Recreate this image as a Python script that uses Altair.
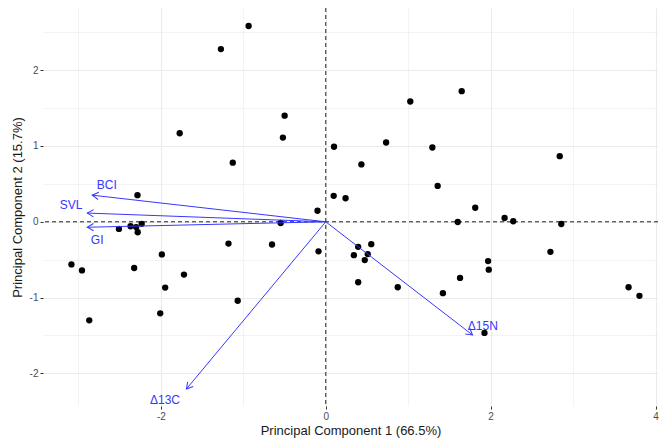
import math
import altair as alt
import pandas as pd

# ---- data ----
pc1 = [-0.936, -1.272, -1.772, -0.499, -0.520, -1.128, -2.284, -0.100, 0.100, 0.096,
       0.732, 1.025, 1.649, 1.293, 0.432, 2.838, 1.357, 0.240, 1.813, 2.169,
       -2.509, -2.368, -2.300, -2.233, -2.281, -0.547, -1.180, -0.652, -0.088, -1.988,
       -3.085, -2.957, -2.324, -1.720, -1.948, -1.068, -2.008, -2.869, 1.601, 2.274,
       2.857, 0.393, 0.341, 0.552, 0.509, 0.473, 0.393, 0.873, 1.421, 1.629,
       1.969, 1.977, 2.725, 3.673, 3.805, 1.925]
pc2 = [2.583, 2.278, 1.168, 1.400, 1.111, 0.780, 0.351, 0.146, 0.990, 0.342,
       1.046, 1.587, 1.723, 0.980, 0.757, 0.866, 0.473, 0.310, 0.185, 0.050,
       -0.094, -0.059, -0.070, -0.027, -0.138, -0.016, -0.287, -0.300, -0.390, -0.431,
       -0.562, -0.641, -0.610, -0.697, -0.868, -1.042, -1.208, -1.300, -0.003, 0.007,
       -0.029, -0.330, -0.440, -0.295, -0.426, -0.505, -0.798, -0.864, -0.942, -0.741,
       -0.518, -0.632, -0.396, -0.864, -0.977, -1.466]

var_names = ["BCI", "SVL", "GI", "\u039413C", "\u039415N"]
var_pc1 = [-2.833, -2.893, -2.893, -1.690, 1.780]
var_pc2 = [0.351, 0.115, -0.072, -2.205, -1.493]
lab_pc1 = [-2.657, -3.089, -2.773, -1.950, 1.905]
lab_pc2 = [0.486, 0.216, -0.235, -2.350, -1.380]

x_ticks = [-3, -2, -1, 0, 1, 2, 3, 4]
y_ticks = [-2.5, -2, -1.5, -1, -0.5, 0, 0.5, 1, 1.5, 2, 2.5]
zero_line = [0]

x_title = "Principal Component 1 (66.5%)"
y_title = "Principal Component 2 (15.7%)"

# ---- layout / style ----
XMIN, XMAX = -3.43, 4.03
YMIN, YMAX = -2.43, 2.82
W, H = 615, 398
BLUE = "#3737ff"
FONT = "Liberation Sans"

kx = W / (XMAX - XMIN)
ky = H / (YMAX - YMIN)

pts = pd.DataFrame({"pc1": pc1, "pc2": pc2})
arrows = pd.DataFrame({
    "name": var_names, "pc1": var_pc1, "pc2": var_pc2,
    "lx": lab_pc1, "ly": lab_pc2,
    "x0": [0] * len(var_names), "y0": [0] * len(var_names),
})
arrows["angle"] = [
    math.degrees(math.atan2(dx * kx, dy * ky)) % 360
    for dx, dy in zip(var_pc1, var_pc2)
]
zeros = pd.DataFrame({"v": zero_line})

xscale = alt.Scale(domain=[XMIN, XMAX], nice=False, zero=False)
yscale = alt.Scale(domain=[YMIN, YMAX], nice=False, zero=False)

xaxis = alt.Axis(
    values=x_ticks,
    labelExpr="datum.value % 2 === 0 ? '' + datum.value : ''",
    grid=True, gridColor="#ebebeb",
    gridWidth={"condition": {"test": "datum.value % 2 !== 0", "value": 0.6}, "value": 1.1},
    tickOpacity={"condition": {"test": "datum.value % 2 !== 0", "value": 0}, "value": 1},
    domain=False, tickColor="#333333", tickSize=3, tickWidth=1,
    labelPadding=2, labelFontSize=10, labelColor="#4d4d4d",
    titleFontSize=13, titleFontWeight="normal", titleColor="#1a1a1a", titlePadding=3,
)
yaxis = alt.Axis(
    values=y_ticks,
    labelExpr="datum.value % 1 === 0 ? '' + datum.value : ''",
    grid=True, gridColor="#ebebeb",
    gridWidth={"condition": {"test": "datum.value % 1 !== 0", "value": 0.6}, "value": 1.1},
    tickOpacity={"condition": {"test": "datum.value % 1 !== 0", "value": 0}, "value": 1},
    domain=False, tickColor="#333333", tickSize=3, tickWidth=1,
    labelPadding=2, labelFontSize=10, labelColor="#4d4d4d",
    titleFontSize=13, titleFontWeight="normal", titleColor="#1a1a1a", titlePadding=5,
)

X = lambda f: alt.X(f, type="quantitative", scale=xscale, axis=xaxis, title=x_title)
Y = lambda f: alt.Y(f, type="quantitative", scale=yscale, axis=yaxis, title=y_title)

vline = alt.Chart(zeros).mark_rule(color="#222222", strokeWidth=1, strokeDash=[4, 3]).encode(x=X("v"))
hline = alt.Chart(zeros).mark_rule(color="#222222", strokeWidth=1, strokeDash=[4, 3]).encode(y=Y("v"))

points = alt.Chart(pts).mark_circle(color="black", opacity=1, size=40).encode(x=X("pc1"), y=Y("pc2"))

shafts = alt.Chart(arrows).mark_rule(color=BLUE, strokeWidth=1).encode(
    x=X("x0"), y=Y("y0"), x2=alt.X2("pc1"), y2=alt.Y2("pc2")
)
heads = alt.Chart(arrows).mark_point(
    shape="M-0.5,0.866L0,0L0.5,0.866", filled=False, color=BLUE, strokeWidth=1,
    size=210, opacity=1,
).encode(x=X("pc1"), y=Y("pc2"), angle=alt.Angle("angle:Q", scale=None))

labels = alt.Chart(arrows).mark_text(
    color=BLUE, font=FONT, fontSize=12, align="center", baseline="middle"
).encode(x=X("lx"), y=Y("ly"), text="name:N")

chart = alt.layer(vline, hline, points, shafts, heads, labels).properties(
    width=W, height=H,
    autosize=alt.AutoSizeParams(type="none"),
    padding={"left": 35, "top": 0, "right": 3, "bottom": 33},
    background="white",
).configure_view(stroke=None).configure_axis(labelFont=FONT, titleFont=FONT)

chart.save("out.html", embed_options={"renderer": "svg", "actions": False})
